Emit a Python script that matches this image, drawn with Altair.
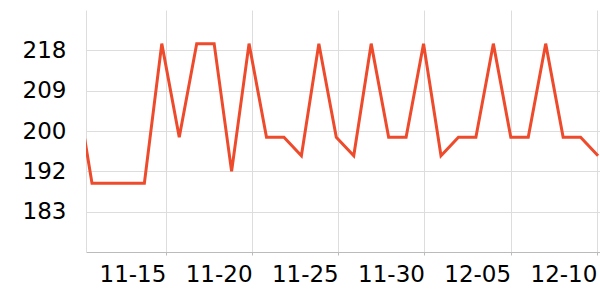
import altair as alt
import pandas as pd

dates = [
    "2024-11-09T16:54:00",
    "2024-11-10T17:11:00", "2024-11-11T17:29:00", "2024-11-12T17:46:00",
    "2024-11-13T18:04:00", "2024-11-14T18:21:00", "2024-11-15T18:39:00",
    "2024-11-16T18:57:00", "2024-11-17T19:14:00", "2024-11-18T19:32:00",
    "2024-11-19T19:49:00", "2024-11-20T20:07:00", "2024-11-21T20:24:00",
    "2024-11-22T20:42:00", "2024-11-23T21:00:00", "2024-11-24T21:17:00",
    "2024-11-25T21:35:00", "2024-11-26T21:52:00", "2024-11-27T22:10:00",
    "2024-11-28T22:28:00", "2024-11-29T22:45:00", "2024-11-30T23:03:00",
    "2024-12-01T23:20:00", "2024-12-02T23:38:00", "2024-12-03T23:55:00",
    "2024-12-05T00:13:00", "2024-12-06T00:31:00", "2024-12-07T00:48:00",
    "2024-12-08T01:06:00", "2024-12-09T01:23:00", "2024-12-10T01:41:00",
]
values = [
    212,
    189, 189, 189, 189, 219.3, 199, 219.3, 219.3, 191.6, 219.3,
    199, 199, 195, 219.3, 199, 195, 219.3, 199, 199, 219.3,
    195, 199, 199, 219.3, 199, 199, 219.3, 199, 199, 195,
]
y_ticks = [182.85, 191.6, 200.35, 209.1, 217.85]
x_tick_days = [(11, 15), (11, 20), (11, 25), (11, 30), (12, 5), (12, 10)]

df = pd.DataFrame({"date": dates, "value": values})

x_ticks = [alt.DateTime(year=2024, month=m, date=d) for m, d in x_tick_days]

chart = (
    alt.Chart(df)
    .mark_line(color="#ee4a2c", strokeWidth=3, clip=True)
    .encode(
        x=alt.X(
            "date:T",
            title=None,
            scale=alt.Scale(
                domain=[
                    alt.DateTime(year=2024, month=11, date=10, hours=8, minutes=50),
                    alt.DateTime(year=2024, month=12, date=10, hours=4, minutes=24),
                ]
            ),
            axis=alt.Axis(
                values=x_ticks,
                format="%m-%d",
                labelAlign="right",
                labelFontSize=23,
                labelFont="DejaVu Sans",
                labelColor="#000",
                labelPadding=8,
                tickSize=3,
                tickColor="#bbb",
                domainColor="#bbb",
                gridColor="#ddd",
                labelOverlap=False,
                labelFlush=False,
            ),
        ),
        y=alt.Y(
            "value:Q",
            title=None,
            scale=alt.Scale(domain=[174.1, 226.6], nice=False, zero=False),
            axis=alt.Axis(
                values=y_ticks,
                format=".0f",
                labelFontSize=23,
                labelFont="DejaVu Sans",
                labelColor="#000",
                labelPadding=20,
                ticks=False,
                domain=True,
                domainColor="#ddd",
                gridColor="#ddd",
            ),
        ),
    )
    .properties(
        width=514,
        height=242,
        autosize=alt.AutoSizeParams(type="none"),
        padding={"left": 86, "top": 10, "right": 0, "bottom": 48},
    )
    .configure_view(stroke=None)
)

chart.save("out.html", embed_options={"renderer": "svg", "actions": False})
